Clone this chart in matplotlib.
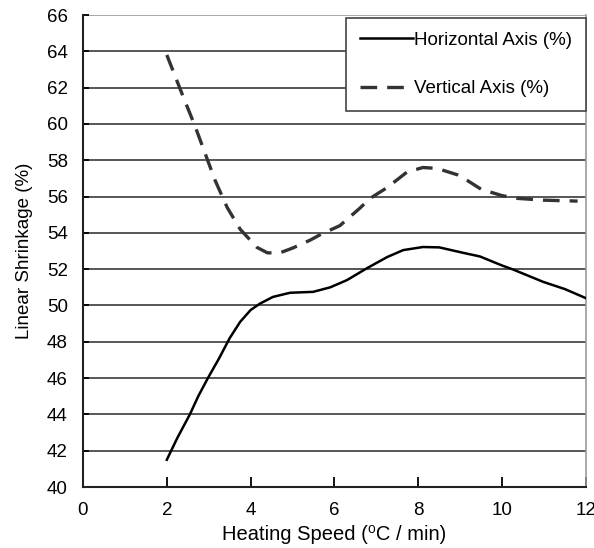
import matplotlib
matplotlib.use('Agg')
import matplotlib.pyplot as plt

plt.rcParams['font.family'] = ['Liberation Sans', 'DejaVu Sans']

fs = 13.5

# heating speed (C/min) vs linear shrinkage (%)
horiz_x = [2.0, 2.25, 2.55, 2.75, 2.98, 3.25, 3.5, 3.75, 4.0, 4.22, 4.53, 4.94, 5.49, 5.9, 6.3, 6.78,
           7.26, 7.64, 8.11, 8.5, 9.07, 9.47, 10.0, 10.24, 10.98, 11.5, 12.0]
horiz_y = [41.5, 42.7, 44.0, 45.0, 46.0, 47.1, 48.2, 49.1, 49.75, 50.1, 50.47, 50.7, 50.75, 51.0, 51.4, 52.06,
           52.67, 53.05, 53.22, 53.2, 52.9, 52.7, 52.2, 52.0, 51.3, 50.9, 50.4]

vert_x = [2.0, 2.39, 2.67, 2.91, 3.15, 3.44, 3.75, 4.15, 4.4, 4.7, 5.01, 5.42, 5.66, 6.13, 6.61, 6.85,
          7.26, 7.73, 8.11, 8.45, 8.93, 9.16, 9.5, 10.0, 10.36, 11.0, 11.8]
vert_y = [63.8, 61.5, 59.9, 58.4, 56.9, 55.4, 54.2, 53.2, 52.9, 52.9, 53.17, 53.6, 53.9, 54.4, 55.37, 55.9,
          56.5, 57.35, 57.6, 57.55, 57.2, 56.9, 56.4, 56.05, 55.9, 55.8, 55.75]

x_ticks = [0, 2, 4, 6, 8, 10, 12]
y_ticks = list(range(40, 67, 2))

fig = plt.figure(figsize=(5.94, 5.48), dpi=100)
ax = fig.add_axes([0.1397, 0.1113, 0.8468, 0.8613])

for yv in y_ticks[1:]:
    ax.axhline(yv, color='#3a3a3a' if yv < 66 else '#999999', lw=1.2, zorder=1)

ax.plot(horiz_x, horiz_y, color='black', lw=1.8, label='Horizontal Axis (%)', zorder=3)
ax.plot(vert_x, vert_y, color='#333333', lw=2.4, dashes=(5, 3.0), label='Vertical Axis (%)', zorder=3)

ax.set_xlim(0, 12)
ax.set_ylim(40, 66)
ax.set_xticks(x_ticks)
ax.set_yticks(y_ticks)
ax.tick_params(axis='x', direction='in', length=7, width=1.3, pad=11, labelsize=fs)
ax.tick_params(axis='y', direction='in', length=4, width=1.3, pad=11, labelsize=fs)

for s in ['left', 'bottom']:
    ax.spines[s].set_linewidth(1.5)
    ax.spines[s].set_color('#222222')
ax.spines['top'].set_visible(False)
ax.spines['right'].set_color('#999999')
ax.spines['right'].set_linewidth(1.2)

ax.set_xlabel('Heating Speed (\u2070C / min)', fontsize=14.5, labelpad=4)
ax.set_ylabel('Linear Shrinkage (%)', fontsize=13.5, labelpad=10)

leg = ax.legend(loc='upper right', bbox_to_anchor=(1.0, 0.994), borderaxespad=0,
                fontsize=fs, handlelength=2.8, handletextpad=0.05, labelspacing=1.65,
                borderpad=0.75, fancybox=False, framealpha=1)
leg.get_frame().set_edgecolor('#444444')
leg.get_frame().set_linewidth(1.2)

plt.savefig('out.png', dpi=100)
